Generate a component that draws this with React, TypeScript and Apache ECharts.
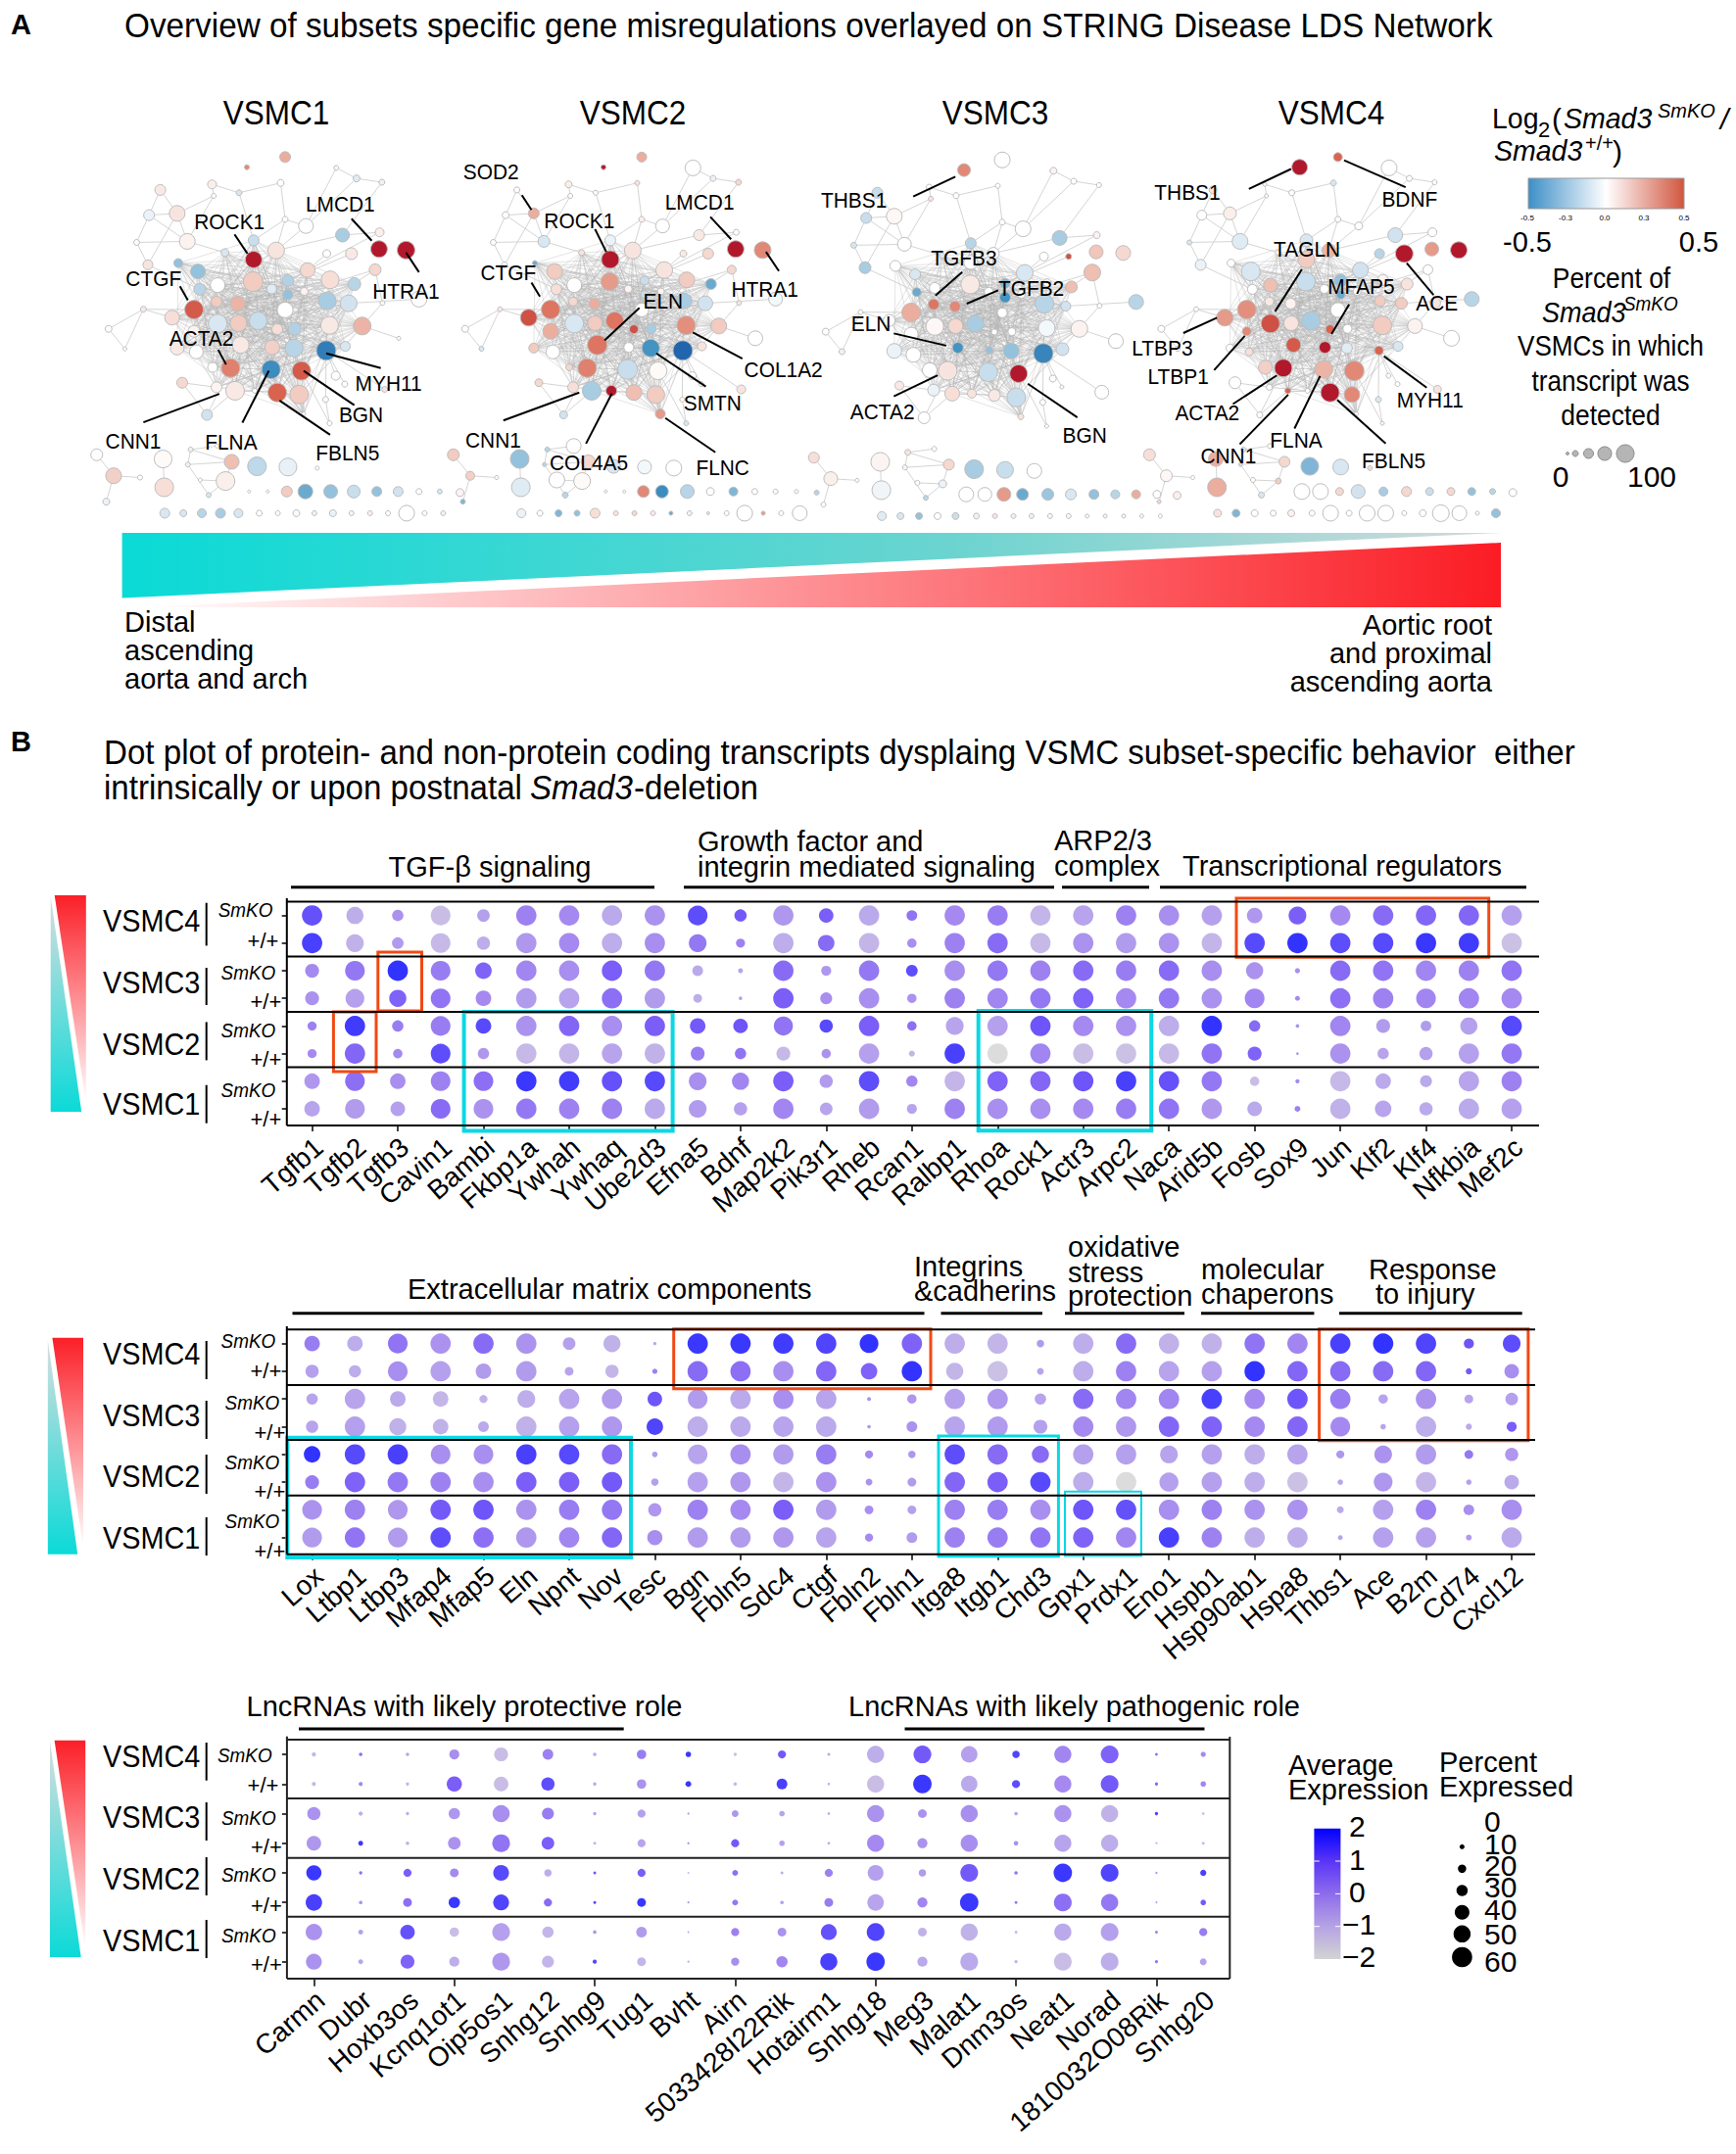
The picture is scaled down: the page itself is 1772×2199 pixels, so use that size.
import React, { useEffect, useRef } from "react";
import * as echarts from "echarts";

const FONT = "Liberation Sans";

// ---------- dot plot rows ----------
const rowLabels = ["VSMC4 SmKO", "VSMC4 +/+", "VSMC3 SmKO", "VSMC3 +/+", "VSMC2 SmKO", "VSMC2 +/+", "VSMC1 SmKO", "VSMC1 +/+"];

// ---------- dot plot 1 ----------
const genesA = ["Tgfb1","Tgfb2","Tgfb3","Cavin1","Bambi","Fkbp1a","Ywhah","Ywhaq","Ube2d3","Efna5","Bdnf","Map2k2","Pik3r1","Rheb","Rcan1","Ralbp1","Rhoa","Rock1","Actr3","Arpc2","Naca","Arid5b","Fosb","Sox9","Jun","Klf2","Klf4","Nfkbia","Mef2c"];
const pctA = [
[60,60,40,40,25,25,45,45],[50,52,58,55,60,60,58,58],[32,33,60,50,32,26,45,42],[58,58,58,58,58,58,58,58],[36,38,48,45,45,32,58,58],
[60,60,60,60,60,60,60,60],[60,60,60,60,60,60,60,60],[60,60,60,60,60,60,60,60],[60,60,60,60,60,60,60,60],[58,52,30,24,45,40,52,52],
[35,25,12,8,42,32,50,38],[60,60,60,60,56,40,60,60],[42,48,28,34,38,26,38,36],[60,60,60,60,60,60,60,60],[30,26,33,26,26,16,32,28],
[60,60,60,60,52,60,60,60],[60,60,60,60,60,60,60,60],[60,60,60,60,60,60,60,60],[60,60,60,60,60,60,60,60],[60,60,60,60,60,60,60,60],
[60,60,60,60,60,60,60,60],[60,60,60,60,60,60,60,60],[45,60,50,58,32,40,26,42],[52,60,13,12,8,5,10,15],[60,60,60,60,60,60,60,60],
[60,60,60,60,40,32,45,48],[60,60,60,58,30,38,34,38],[60,60,60,60,50,60,60,60],[60,60,60,60,60,60,60,60]];
const exprA = [
[1.3,1.7,0,-0.2,0.2,0,-0.3,-0.6],[-0.8,-0.9,0.4,-0.5,1.8,0.8,0.6,-0.4],[-0.2,-0.4,2,0.9,0.3,0,-0.1,-0.5],[-1.2,-1.1,0.3,0.5,0.3,1.4,0.2,0.7],[-0.5,-0.8,0.9,0,1.5,-0.3,0.6,-0.2],
[0.2,-0.3,0.1,-0.4,-0.2,-1.1,1.9,0.4],[0,0,-0.1,-0.6,0.8,-1,1.8,0.2],[-0.7,-0.8,1,0.6,-0.1,-0.6,1.3,0.2],[-0.2,-0.1,0.4,-0.4,1,-0.9,1.5,-0.7],[1.4,0.4,-0.7,-0.8,1.1,0.3,-0.1,-0.4],
[1.1,0.2,-0.6,-0.5,1.2,0.5,0.1,-0.5],[-0.3,-0.8,0.7,1,0.5,-1.1,1,0.1],[1,0.7,-0.3,-0.1,1.5,-0.2,-0.4,-0.6],[-0.7,-1,0.4,-0.1,1,-0.5,1.4,-0.4],[0.5,-0.1,1.4,-0.2,0.6,-1,0.1,-0.6],
[0,0.2,-0.1,0.2,-0.6,1.7,-1,0.2],[0.3,0.7,0.4,0.1,-0.5,-2,0.9,-0.1],[-1,-1.1,0.2,0.4,1.2,0.1,0.8,-0.1],[-0.6,-0.2,0.7,0.9,0,-1.2,1.2,0],[0.2,-0.4,0.3,0,-0.2,-1.3,1.7,0.3],
[-0.1,-0.2,0.7,0.4,-0.8,-1.1,1.3,0.5],[-0.5,-1,-0.1,-0.2,2,0.5,0.4,-0.3],[-0.3,1.5,-0.2,0.1,0.7,0.9,-1.2,-0.7],[1,2,-0.1,0,-0.2,-0.1,0,0.2],[0,1.4,0.7,0.6,0.1,-0.2,-1.1,-0.9],
[0.7,1.5,0.5,0.2,-0.4,-0.6,-0.7,-0.6],[0.8,1.9,0.1,0.1,-0.4,-0.5,-0.7,-0.7],[0.8,1.8,0.2,0.1,-0.5,-0.5,-0.6,-0.7],[-0.5,-1.3,0.5,0,1.5,0.4,0.2,-0.5]];

// ---------- dot plot 2 ----------
const genesB = ["Lox","Ltbp1","Ltbp3","Mfap4","Mfap5","Eln","Npnt","Nov","Tesc","Bgn","Fbln5","Sdc4","Ctgf","Fbln2","Fbln1","Itga8","Itgb1","Chd3","Gpx1","Prdx1","Eno1","Hspb1","Hsp90ab1","Hspa8","Thbs1","Ace","B2m","Cd74","Cxcl12"];
const pctB = [
[45,38,32,35,48,40,58,58],[45,35,60,60,60,60,60,60],[58,58,45,50,60,60,58,58],[60,60,45,45,58,60,60,60],[60,45,22,30,58,60,60,60],
[60,60,52,60,60,60,60,60],[36,24,60,60,60,60,60,60],[50,38,60,60,60,60,60,60],[7,13,42,48,14,20,38,44],[60,60,58,60,58,60,60,60],
[60,60,60,60,60,60,60,60],[60,60,60,60,60,60,60,60],[60,60,60,60,60,60,60,60],[55,48,9,8,22,18,24,22],[60,60,26,30,20,24,24,30],
[60,50,60,60,60,60,60,60],[60,60,60,60,60,60,60,60],[20,18,32,40,50,60,60,60],[60,60,60,60,60,60,60,60],[60,60,60,60,60,60,60,60],
[60,60,60,60,52,56,60,60],[60,60,60,60,60,60,60,60],[60,60,60,60,60,60,60,60],[60,60,60,60,60,60,60,60],[60,60,60,58,22,14,18,12],
[60,60,26,14,52,55,60,60],[60,60,60,60,60,60,60,60],[28,16,24,16,24,14,30,15],[52,42,36,28,38,42,60,60]];
const exprB = [
[0.3,-0.5,-0.6,-0.6,2,0.3,-0.2,-0.4],[-0.8,-0.8,-0.6,-0.5,1.5,0.9,0.2,0.5],[0.5,-0.1,-0.7,-0.9,1.7,0.4,-0.3,-0.4],[-0.2,-0.5,-1,-0.9,-0.1,0.2,1.1,1.4],[0.7,-0.4,-0.9,-0.7,-0.1,-0.1,1.2,0.6],
[-0.2,-0.4,-0.8,-0.9,1.7,1,-0.2,-0.3],[-0.5,-0.6,-0.6,-0.5,1.5,1,0.3,0.1],[-0.9,-1,-0.4,-0.3,0.7,1.1,0.4,0.8],[-0.6,0.2,1.2,1.6,-0.4,-0.5,-0.3,-0.1],[1.9,0.7,-0.4,-0.8,-0.6,-0.5,0.2,-0.4],
[1.9,0.6,-0.7,-0.7,-0.1,-0.3,0,-0.4],[1.8,-0.1,-0.1,-0.6,-0.4,-1,1,-0.3],[1.6,0.8,-0.6,-0.7,0.3,-0.2,-0.4,-0.6],[2,0.9,-0.2,-0.3,0,-0.2,-0.1,0],[0.9,2,-0.3,-0.2,-0.3,-0.4,-0.5,-0.4],
[-0.8,-1,-0.5,-0.6,1.4,0.8,0.2,0.2],[-1,-1.3,-0.3,-0.4,0.7,1,0.3,0.3],[-0.4,-0.6,-0.6,-0.5,0.7,1.5,-0.1,0.5],[-0.8,-0.8,0.7,0,-0.5,-0.8,1.2,0.9],[0.7,0.2,0.1,-0.3,-0.5,-2,1.3,0.1],
[-0.9,-0.6,0.1,0.8,-0.6,-0.5,-0.1,1.7],[-0.9,-0.5,1.7,0.9,-0.5,-0.5,0.2,0.2],[0.5,2,0,0,-0.8,-0.8,-0.2,-0.8],[0.1,0.8,1.2,0.8,-0.6,-1.3,-0.2,-0.8],[1.7,0.7,0.3,0,-0.3,-0.6,-0.7,-0.6],
[2,0.7,-0.6,-0.6,-0.2,-0.3,-0.5,-0.5],[1.6,0.8,-0.2,-0.8,-0.4,-1,0.2,-0.5],[1.2,1.1,-0.6,-0.7,0.4,-0.5,-0.1,-0.4],[1.4,-0.1,-0.5,1,-0.3,-0.7,-0.1,-0.7]];

// ---------- dot plot 3 ----------
const genesC = ["Carmn","Dubr","Hoxb3os","Kcnq1ot1","Oip5os1","Snhg12","Snhg9","Tug1","Bvht","Airn","5033428I22Rik","Hotairm1","Snhg18","Meg3","Malat1","Dnm3os","Neat1","Norad","1810032O08Rik","Snhg20"];
const pctC = [
[10,10,38,42,44,48,48,46],[8,10,10,12,7,8,12,12],[8,7,7,8,22,24,42,40],[28,44,32,36,24,32,26,28],[40,42,50,52,46,46,52,52],
[30,38,34,36,20,22,32,34],[8,7,7,6,6,6,8,10],[26,26,22,22,22,24,30,24],[14,15,3,4,2,3,2,3],[7,8,18,22,15,15,22,22],
[22,30,14,14,6,8,24,32],[6,5,5,5,22,24,46,50],[50,50,50,50,46,48,52,54],[52,54,24,28,20,28,24,28],[48,48,50,50,52,54,50,52],
[20,22,8,11,8,6,6,7],[50,50,50,50,54,52,50,52],[52,52,50,50,52,50,52,52],[5,7,7,3,4,3,6,7],[13,14,5,6,16,14,22,18]];
const exprC = [
[-1,-1.1,-0.2,-0.3,1.9,1.7,-0.2,-0.2],[0.6,0,-0.8,1.9,0.6,-0.2,-0.5,-0.6],[-0.7,-1,-0.8,-0.9,1,0.6,1.3,0.9],[-0.1,1,-0.3,-0.2,0,1.9,-1.2,-0.8],[-1.2,-1.2,-0.1,0.5,1.5,1.6,-0.5,-0.3],
[0.2,1.4,0.3,1,-0.8,0.7,-1,-1],[-0.7,-0.6,-0.5,-0.9,1.2,1.6,-0.3,1.5],[0.3,-0.2,-0.5,-0.6,1,1.9,-0.4,-1],[1.9,1.9,-0.2,-0.3,-0.8,-0.2,-0.4,-0.6],[-1.3,-1,-0.3,1.1,0.6,0.4,0.2,-0.1],
[1.1,1.7,-0.6,-0.5,-0.8,-0.5,-0.2,0.1],[-0.7,-0.9,-0.7,-0.7,0.2,0.3,1.3,1.7],[-0.8,-1.2,-0.2,0,-0.5,-0.6,1.6,1.9],[1.1,1.9,-0.2,-0.2,-0.4,0.1,-0.9,-0.7],[-0.5,-0.7,-0.1,-0.1,1.1,1.9,-0.9,-0.7],
[1.6,1.4,-0.5,-0.1,0.4,0.4,-1.1,-0.9],[0.1,0,-0.2,-0.6,1.9,0.6,-0.7,-1.2],[0.9,1.1,-0.9,-0.8,1.6,0.4,-0.5,-0.8],[0.9,0.7,1.7,-1,-0.3,-0.6,0.2,0.4],[0,0.1,-1.1,-1.1,1.7,1.1,0.3,-0.5]];

// ---------- networks: one shared layout, node sizes and log2 ratios per subset ----------
const layoutX = [451,345,410,482,536,580,450,423,385,387,355,352,317,400,451,491,547,512,483,512,541,587,630,582,620,507,459,424,387,306,586,644,524,493,428,484,523,349,315,614,418,532,493,385,345,453,540,378,
285,265,315,243,333,263,377,425,380,499,507,544,598,634,679,609,675,625,581,667,680,745,709,255,193,222,324,368,579,597,613,684,586,674,722,507,439,
172,202,249,189,290,292,339,334,412,401,371,457,512,564,386,356,
443,476,510,543,588,629,670,708,745,782,818,
293,326,359,392,424,461,494,527,559,592,625,658,690,723,755,788];
const layoutY = [742,885,1052,1056,1060,1002,805,868,862,815,827,776,752,722,687,716,772,802,826,842,833,800,812,860,867,886,917,924,925,908,930,932,940,941,986,993,995,1006,995,990,1117,1128,1122,1107,947,1117,1183,1050,
543,615,610,693,690,757,527,551,560,523,627,646,480,510,521,672,664,725,725,771,866,855,967,884,940,997,1094,1186,1142,1074,1098,1113,1210,712,715,449,478,
1300,1360,1365,1434,1312,1393,1285,1328,1320,1375,1415,1333,1335,1338,1275,1372,
1405,1405,1405,1405,1405,1405,1405,1405,1405,1405,1408,
1467,1467,1467,1467,1467,1467,1467,1467,1467,1467,1467,1467,1467,1467,1467,1467];
const peripheralLinks = [[48,49],[48,50],[49,50],[49,51],[49,52],[50,52],[50,53],[51,52],[51,53],[52,13],[53,10],[54,55],[54,56],[55,14],[56,50],[56,52],[55,57],[57,58],[58,14],[58,15],[59,15],[59,58],[60,61],[61,62],[60,59],[62,63],[61,59],[63,15],[64,16],[64,63],[66,16],[67,20],[67,23],[68,31],[68,67],[69,24],[70,31],[71,1],[71,29],[72,71],[72,73],[71,73],[74,43],[74,75],[75,2],[40,75],[76,5],[77,5],[78,5],[79,5],[80,76],[80,4],[45,40],[46,41],[46,4],[43,2],[47,2],[65,17],[24,5],[39,5],[31,5],[85,86],[86,87],[86,88],[89,90],[91,92],[92,93],[91,93],[92,95],[93,94],[95,94],[99,91],[100,94]];

const nodesVSMC1 = [[17,.9],[19,.55],[19,.42],[19,-.55],[19,.55],[20,-.65],[20,.2],[15,.28],[11,.2],[15,0],[12,-.2],[15,-.3],[9,-.3],[8,-.1],[11,-.15],[17,.1],[15,.15],[12,-.22],[10,-.08],[10,-.3],[8,.05],[18,.12],[13,-.2],[18,-.25],[17,-.12],[16,0],[18,-.15],[17,.2],[19,-.1],[15,.12],[18,.08],[18,.28],[13,-.22],[11,.12],[17,.08],[15,.18],[18,-.2],[14,0],[14,.08],[10,-.1],[19,.08],[19,.2],[19,.5],[11,.04],[12,.05],[5,0],[4,0],[10,0],
[11,.08],[11,-.05],[16,.1],[6,0],[16,.05],[10,.1],[9,.06],[6,-.1],[5,0],[7,0],[6,0],[15,0],[5,.04],[7,-.08],[6,-.05],[14,-.25],[9,.06],[12,.08],[8,0],[12,.15],[5,.03],[16,0],[4,0],[6,.08],[7,0],[4,0],[11,.15],[11,-.12],[6,0],[9,0],[6,0],[6,.1],[5,0],[17,.9],[18,.9],[11,.3],[5,.4],
[12,0],[16,.18],[5,0],[7,-.05],[18,.02],[19,.12],[5,-.05],[5,-.05],[15,.25],[19,.06],[5,-.1],[19,-.18],[18,-.06],[4,0],[4,0],[4,0],
[3,0],[3,0],[11,.2],[15,-.4],[14,-.3],[13,-.15],[10,-.3],[10,-.12],[6,0],[5,-.1],[8,.04],
[10,-.1],[7,-.1],[9,-.2],[10,-.25],[9,-.1],[6,0],[5,0],[7,.03],[5,-.05],[7,-.05],[5,-.03],[5,.06],[5,0],[16,0],[5,0],[5,-.05]];
const nodesVSMC2 = [[18,.9],[19,.45],[19,.42],[20,-.15],[18,.02],[20,-.8],[18,.35],[11,.3],[9,.15],[15,0],[11,.12],[16,.2],[5,-.4],[6,.1],[11,-.05],[17,.1],[17,.1],[9,-.15],[8,.05],[8,-.15],[7,.05],[16,.2],[11,-.4],[16,-.25],[15,-.12],[14,0],[18,.45],[15,.2],[19,-.1],[17,.6],[19,.38],[16,.2],[10,-.25],[9,.6],[20,.45],[10,0],[18,-.5],[14,0],[10,.2],[9,.1],[19,-.25],[18,.2],[16,.25],[11,.12],[16,.3],[11,.9],[10,.35],[7,.15],
[6,0],[7,0],[11,.3],[6,0],[12,-.1],[6,0],[7,.06],[5,0],[5,0],[5,.1],[6,.06],[14,0],[16,0],[6,-.05],[6,.15],[11,.08],[6,0],[11,.15],[7,.08],[9,.15],[5,.1],[14,-.03],[15,0],[5,.08],[7,0],[5,-.1],[8,.15],[8,-.12],[5,0],[8,0],[5,0],[9,.1],[5,-.1],[17,.9],[17,.4],[10,.3],[5,.9],
[12,.2],[9,.18],[4,0],[5,-.35],[19,-.3],[19,-.08],[5,-.2],[4,-.2],[14,.15],[17,.02],[6,-.2],[14,-.1],[14,-.03],[16,0],[15,0],[16,0],
[3,0],[3,0],[12,.4],[13,-.55],[14,-.2],[8,0],[9,-.35],[6,0],[5,0],[4,0],[5,-.2],
[9,-.05],[6,0],[7,-.35],[6,-.3],[10,.12],[5,.1],[5,.15],[5,.08],[4,-.4],[5,-.05],[3,-.1],[5,0],[16,0],[4,.35],[5,0],[15,0]];
const nodesVSMC3 = [[14,0],[19,.3],[19,.1],[19,-.15],[18,.9],[20,-.6],[19,.08],[11,.4],[11,.45],[11,0],[9,-.4],[11,-.1],[11,0],[6,-.1],[11,-.2],[12,0],[17,-.1],[10,-.35],[9,0],[11,-.5],[8,0],[8,0],[12,.25],[19,-.2],[10,-.12],[10,0],[17,-.25],[15,.15],[18,.03],[12,0],[17,-.03],[17,.05],[8,0],[6,0],[11,-.5],[7,-.3],[16,-.3],[15,0],[15,-.05],[13,-.12],[15,.12],[19,-.15],[12,.08],[12,-.05],[14,0],[9,.1],[6,.1],[15,0],
[11,-.15],[11,-.15],[16,.03],[6,-.1],[14,0],[12,-.25],[6,0],[6,0],[5,.1],[5,0],[6,0],[16,0],[7,.05],[6,0],[5,0],[15,-.25],[7,.05],[6,.6],[9,0],[17,.25],[5,0],[15,-.2],[15,0],[5,0],[7,0],[6,-.05],[9,.08],[12,0],[6,0],[7,0],[4,0],[14,0],[4,0],[14,.22],[15,.15],[16,0],[13,.4],
[11,.12],[14,.06],[4,0],[5,0],[19,.04],[19,-.04],[6,.1],[5,-.03],[11,.15],[8,-.05],[5,-.2],[19,-.25],[17,-.15],[15,0],[5,0],[5,0],
[15,0],[14,0],[14,.35],[12,-.4],[12,-.28],[11,-.1],[10,-.3],[9,-.2],[9,.3],[8,0],[8,.06],
[9,-.08],[7,-.1],[7,-.3],[7,0],[7,-.15],[6,-.05],[5,.1],[5,-.05],[5,-.05],[5,-.03],[5,.03],[4,-.03],[4,-.03],[4,.03],[4,-.03],[4,0]];
const nodesVSMC4 = [[17,.2],[19,.38],[18,.9],[18,.28],[20,.4],[9,.5],[19,-.15],[11,.05],[9,.08],[14,.25],[10,0],[19,-.1],[8,0],[5,0],[13,-.1],[14,.28],[16,-.12],[13,-.3],[9,0],[9,-.4],[8,0],[11,.05],[12,.1],[11,.2],[12,.2],[15,0],[19,-.25],[15,.1],[19,.6],[17,.35],[19,.2],[15,.05],[9,0],[9,.5],[15,.55],[12,.9],[11,-.08],[8,.12],[8,0],[10,-.1],[6,.5],[16,.4],[19,.9],[6,0],[9,.4],[5,0],[4,0],[14,.18],
[8,.1],[10,0],[13,.06],[5,-.1],[16,-.08],[11,-.05],[4,0],[6,0],[4,0],[6,-.1],[6,0],[8,0],[16,0],[6,0],[5,0],[15,-.12],[9,0],[18,.9],[10,-.2],[10,0],[11,.1],[15,-.2],[16,0],[5,0],[7,0],[5,0],[12,0],[6,0],[6,-.1],[5,0],[5,0],[8,.1],[4,0],[14,.35],[17,.9],[9,.5],[16,.9],
[12,.12],[12,.03],[4,0],[4,.15],[15,.3],[19,.3],[5,-.1],[4,-.15],[11,.15],[6,.2],[6,-.1],[18,-.35],[16,-.1],[5,.15],[5,0],[5,0],
[16,0],[16,0],[8,.15],[14,-.12],[9,-.25],[10,.15],[8,-.15],[8,.15],[8,-.3],[6,-.2],[8,0],
[8,.1],[8,-.35],[7,0],[6,0],[7,.05],[6,0],[16,0],[6,0],[16,0],[16,0],[5,0],[7,0],[17,0],[15,0],[4,0],[9,-.3]];

const fcStops = [[-.8,"#2166ac"],[-.5,"#4393c3"],[-.25,"#a8cce2"],[-.1,"#d8e7f1"],[0,"#ffffff"],[.1,"#f8e4de"],[.25,"#efbfb2"],[.5,"#d9634e"],[.9,"#b2182b"]] as [number,string][];
const fcColor = (v: number) => {
  for (let i = 1; i < fcStops.length; i++) {
    if (v <= fcStops[i][0]) {
      const [a, ca] = fcStops[i-1]; const [b, cb] = fcStops[i];
      return echarts.color.lerp(Math.max(0,(v-a)/(b-a)), [ca, cb]) as string;
    }
  }
  return fcStops[fcStops.length-1][1];
};

const exprColors = ["#D3D3D3","#B5A3E3","#8E6CEC","#5A35F6","#0000FF"];

const z1 = (x: number, y: number) => [x/1.742, y/2.8];
const z2 = (x: number, y: number) => [860+x/1.719, y/2.8];

// callouts: text, label x, label y, line x1,y1,x2,y2
const calloutsLeft: any[] = [
["ROCK1",408,636,417,670,440,725],["LMCD1",605,584,625,625,661,688],["CTGF",273,797,320,818,334,858],["HTRA1",722,834,722,722,745,778],["ACTA2",358,968,388,1000,402,1042],["MYH11",691,1097,580,1010,677,1052],["BGN",642,1187,540,1060,630,1158],["FBLN5",618,1295,497,1145,587,1243],["FLNA",411,1266,478,1060,431,1208],["CNN1",237,1263,390,1126,255,1207],
["SOD2",873,491,928,558,945,600],["ROCK1",1030,632,1058,655,1078,720],["LMCD1",1244,578,1263,620,1300,684],["HTRA1",1360,828,1362,720,1385,775],["CTGF",904,782,945,808,960,848],["ELN",1179,862,1137,880,1075,973],["COL1A2",1393,1058,1232,950,1320,1025],["SMTN",1267,1153,1167,1010,1255,1105],["CNN1",877,1260,1030,1122,895,1202],["COL4A5",1047,1325,1088,1125,1042,1268],["FLNC",1285,1338,1183,1195,1272,1293]];
const calloutsRight: any[] = [
["THBS1",20,573,124,562,198,505],["TGFB3",213,738,210,778,163,845],["TGFB2",331,825,273,830,218,868],["ELN",50,927,90,953,182,988],["ACTA2",70,1178,90,1133,167,1073],["BGN",425,1246,325,1097,412,1193],
["THBS1",605,552,713,540,787,483],["BDNF",995,572,880,458,988,535],["TAGLN",815,713,806,770,759,890],["MFAP5",910,820,889,870,858,955],["ACE",1043,868,990,752,1037,843],["LTBP3",561,997,598,952,657,908],["LTBP1",589,1077,652,1058,706,960],["ACTA2",640,1180,685,1155,762,1073],["MYH11",1031,1146,950,1018,1025,1108],["CNN1",677,1303,697,1270,782,1128],["FLNA",796,1260,793,1225,838,1075],["FBLN5",967,1318,868,1143,953,1268]];

const T = (text: string, x: number, y: number, fontSize: number, o: any = {}) => ({
  type: "text", x, y, z: 100, silent: true, scaleX: o.sx || 1,
  style: { text, fontSize, fontFamily: FONT, fill: "#000", fontStyle: o.italic ? "italic" : "normal", fontWeight: o.bold ? "bold" : "normal",
    align: o.align || "left", textAlign: o.align || "left", verticalAlign: "middle", textVerticalAlign: "middle" },
});
const L = (x1: number, y1: number, x2: number, y2: number, stroke = "#000", lineWidth = 2) => ({
  type: "line", z: 99, silent: true, shape: { x1, y1, x2, y2 }, style: { stroke, lineWidth },
});
const Box = (x1: number, y1: number, x2: number, y2: number, stroke: string, lineWidth = 3) => ({
  type: "rect", z: 98, silent: true, shape: { x: x1, y: y1, width: x2-x1, height: y2-y1 }, style: { fill: "none", stroke, lineWidth },
});
const grad = (x2: number, y2: number, stops: [number,string][]) =>
  new echarts.graphic.LinearGradient(0,0,x2,y2,stops.map(([offset,color])=>({offset,color})));
const Poly = (points: number[][], fill: any) => ({ type:"polygon", z:90, silent:true, shape:{points}, style:{fill} });

const ORANGE = "#F04A14"; const CYAN = "#0BD8E4";

function panelLeft(names: number[], bars: number[][], smko: number[][], plus: number[][], wedge: number[][]) {
  const out: any[] = [];
  const redW = wedge[0]; const tealW = wedge[1];
  out.push(Poly([[redW[0],redW[1]],[redW[2],redW[1]],[redW[2],redW[3]]], grad(0,1,[[0,"#FB1F28"],[1,"#ffffff"]])));
  out.push(Poly([[tealW[0],tealW[1]],[tealW[0],tealW[2]],[tealW[3],tealW[2]]], grad(0,1,[[0,"#d8dede"],[1,"#0BDAD8"]])));
  ["VSMC4","VSMC3","VSMC2","VSMC1"].forEach((n,i)=>{
    out.push(T(n,105,names[i],31,{sx:.93}));
    out.push(L(210.7,bars[i][0],210.7,bars[i][1],"#000",2));
    out.push(T("SmKO",smko[i][0],smko[i][1],21,{italic:true,sx:.9}));
    out.push(T("+/+",plus[i][0],plus[i][1],22));
  });
  return out;
}

export default function App() {
  const ref = useRef<HTMLDivElement>(null);
  useEffect(() => {
    const chart = echarts.init(ref.current!, undefined, { renderer: "svg" });
    const plots = [
      { genes: genesA, pct: pctA, expr: exprA, left: 296.7, width: 1268.2, top: 920.5, height: 225.6, off: 3, yoff: 4 },
      { genes: genesB, pct: pctB, expr: exprB, left: 296.7, width: 1268.2, top: 1357.5, height: 226.3, off: 3, yoff: 4 },
      { genes: genesC, pct: pctC, expr: exprC, left: 296.5, width: 955.6, top: 1775.9, height: 241.9, off: 2, yoff: 3.6 },
    ];
    const nets = [nodesVSMC1, nodesVSMC2, nodesVSMC3, nodesVSMC4];
    const netDx = [0, 364, 732, 1074.6]; const netDy = [0, 0, 2.9, 0];
    const grid: any[] = []; const xAxis: any[] = []; const yAxis: any[] = []; const series: any[] = [];
    plots.forEach((p, k) => {
      grid.push({ left: p.left, top: p.top, width: p.width, height: p.height });
      xAxis.push({ gridIndex: k, type: "category", data: p.genes, offset: p.off,
        axisLine: { show: false }, splitLine: { show: false },
        axisTick: { show: true, alignWithLabel: true, length: k===2?8:6, lineStyle: { color: "#000", width: 1.5 } },
        axisLabel: { show: false } });
      yAxis.push({ gridIndex: k, type: "category", data: rowLabels, inverse: true, offset: p.yoff,
        axisLine: { show: false }, splitLine: { show: false },
        axisTick: { show: true, alignWithLabel: true, length: 5, lineStyle: { color: "#000", width: 1.5 } },
        axisLabel: { show: false } });
      const data: number[][] = [];
      p.genes.forEach((_, i) => rowLabels.forEach((__, j) => data.push([i, j, p.pct[i][j], p.expr[i][j]])));
      series.push({ type: "scatter", xAxisIndex: k, yAxisIndex: k, data, symbol: "circle",
        symbolSize: (v: number[]) => 1 + v[2]*0.33, silent: true, z: 5 });
    });
    nets.forEach((nodes, k) => {
      const g = 3 + k;
      grid.push({ left: netDx[k], top: netDy[k], width: 650, height: 560 });
      xAxis.push({ gridIndex: g, type: "value", min: 0, max: 650*1.742, show: false });
      yAxis.push({ gridIndex: g, type: "value", min: 0, max: 1568, inverse: true, show: false });
      const links: any[] = [];
      for (let i = 0; i < 48; i++) for (let j = i+1; j < 48; j++) if ((i+j)%2===0) links.push({ source: i, target: j });
      peripheralLinks.forEach(([a,b]) => links.push({ source: a, target: b, lineStyle: { opacity: 0.9, color: "#cfcfcf", width: 1 } }));
      series.push({ type: "graph", layout: "none", coordinateSystem: "cartesian2d", xAxisIndex: g, yAxisIndex: g, silent: true, z: 3,
        data: nodes.map((n, i) => ({ name: `v${k}n${i}`, value: [layoutX[i], layoutY[i]], symbolSize: n[0],
          itemStyle: { color: fcColor(n[1]), borderColor: "#bdbdbd", borderWidth: 1 } })),
        links, lineStyle: { color: "#b4b4b4", width: 0.6, opacity: 0.6, curveness: 0 }, label: { show: false } });
    });
    // gene labels: an axis of their own, a few pixels right of the ticks, as in the figure
    plots.forEach((p, k) => {
      const idx = grid.length;
      grid.push({ left: p.left + 7, top: p.top, width: p.width, height: p.height });
      xAxis.push({ gridIndex: idx, type: "category", data: p.genes, offset: p.off,
        axisLine: { show: false }, axisTick: { show: false }, splitLine: { show: false },
        axisLabel: { interval: 0, rotate: 41, fontSize: 28, fontFamily: FONT, color: "#000", margin: 18 } });
      yAxis.push({ gridIndex: idx, type: "value", show: false });
    });

    const g: any[] = [];
    g.push(T("A", 11, 25, 29, { bold: true }));
    g.push(T("Overview of subsets specific gene misregulations overlayed on STRING Disease LDS Network", 127, 26, 36, { sx: .925 }));
    [["VSMC1",282],["VSMC2",646],["VSMC3",1016],["VSMC4",1359]].forEach(([n,x]) => g.push(T(n as string, x as number, 115, 35, { align: "center", sx: .9 })));
    calloutsLeft.forEach(c => {
      const [lx, ly] = z1(c[1], c[2]); const [a, b] = z1(c[3], c[4]); const [d, e] = z1(c[5], c[6]);
      g.push(T(c[0], lx, ly, 22, { align: "center", sx: .95 })); g.push(L(a, b, d, e, "#000", 2));
    });
    calloutsRight.forEach(c => {
      const [lx, ly] = z2(c[1], c[2]); const [a, b] = z2(c[3], c[4]); const [d, e] = z2(c[5], c[6]);
      g.push(T(c[0], lx, ly, 22, { align: "center", sx: .95 })); g.push(L(a, b, d, e, "#000", 2));
    });
    // legend of panel A
    g.push(T("Log", 1523, 121, 30, { sx: .95 })); g.push(T("2", 1570, 132, 22)); g.push(T("(", 1584, 121, 30));
    g.push(T("Smad3", 1596, 121, 30, { italic: true, sx: .95 })); g.push(T("SmKO", 1692, 112, 21, { italic: true, sx: .95 })); g.push(T("/", 1756, 121, 30, { italic: true }));
    g.push(T("Smad3", 1525, 154, 30, { italic: true, sx: .95 })); g.push(T("+/+", 1618, 146, 20)); g.push(T(")", 1646, 154, 30));
    g.push({ type: "rect", z: 90, silent: true, shape: { x: 1560, y: 182, width: 159, height: 31 },
      style: { fill: grad(1,0,[[0,"#3D8FC7"],[.5,"#ffffff"],[1,"#D1563F"]]), stroke: "#999", lineWidth: 1 } });
    [["-0.5",1559],["-0.3",1598],["0.0",1638],["0.3",1678],["0.5",1719]].forEach(([t,x]) => g.push(T(t as string, x as number, 222, 8, { align: "center" })));
    g.push(T("-0.5", 1559, 247, 29, { align: "center" })); g.push(T("0.5", 1734, 247, 29, { align: "center" }));
    g.push(T("Percent of", 1645, 283, 30, { align: "center", sx: .88 }));
    g.push(T("Smad3", 1574, 318, 30, { italic: true, sx: .9 })); g.push(T("SmKO", 1657, 310, 21, { italic: true, sx: .9 }));
    g.push(T("VSMCs in which", 1644, 353, 30, { align: "center", sx: .87 }));
    g.push(T("transcript was", 1644, 389, 30, { align: "center", sx: .87 }));
    g.push(T("detected", 1644, 423, 30, { align: "center", sx: .88 }));
    [[1600,3],[1608,6],[1621.5,10],[1638,14],[1659,18]].forEach(([x,d]) => g.push({ type: "circle", z: 90, silent: true, shape: { cx: x, cy: 463, r: d/2 }, style: { fill: "#b5b5b5", stroke: "#8a8a8a", lineWidth: 1 } }));
    g.push(T("0", 1593, 486, 30, { align: "center" })); g.push(T("100", 1686, 486, 30, { align: "center" }));
    // aorta wedges
    g.push(Poly([[124.6,544],[1532,544],[124.6,610.4]], grad(1,0,[[0,"#0ADAD6"],[.6,"#6bd4d0"],[1,"#d3dada"]])));
    g.push(Poly([[143,620],[1532,554],[1532,620]], grad(1,0,[[0,"#ffffff"],[1,"#FB1C24"]])));
    g.push(T("Distal", 127, 635, 29)); g.push(T("ascending", 127, 664, 29)); g.push(T("aorta and arch", 127, 693, 29));
    g.push(T("Aortic root", 1523, 638, 29, { align: "right" })); g.push(T("and proximal", 1523, 667, 29, { align: "right" })); g.push(T("ascending aorta", 1523, 696, 29, { align: "right" }));
    // panel B headings
    g.push(T("B", 11, 757, 29, { bold: true }));
    g.push(T("Dot plot of protein- and non-protein coding transcripts dysplaing VSMC subset-specific behavior  either", 106, 768, 36, { sx: .92 }));
    g.push(T("intrinsically or upon postnatal", 106, 804, 36, { sx: .92 })); g.push(T("Smad3", 541, 804, 36, { italic: true, sx: .92 })); g.push(T("-deletion", 647, 804, 36, { sx: .92 }));
    // plot 1
    g.push(T("TGF-β signaling", 500, 885, 29, { align: "center" })); g.push(L(297,905.7,668,905.7,"#000",3));
    g.push(T("Growth factor and", 712, 859, 29)); g.push(T("integrin mediated signaling", 712, 885, 29)); g.push(L(698,905.7,1076,905.7,"#000",3));
    g.push(T("ARP2/3", 1076, 858, 29)); g.push(T("complex", 1076, 884, 29)); g.push(L(1084,905.7,1173,905.7,"#000",3));
    g.push(T("Transcriptional regulators", 1207, 884, 29)); g.push(L(1184,905.7,1558,905.7,"#000",3));
    [920.4,976.4,1032.9,1089.5,1149].forEach(y => g.push(L(292.8,y,1571,y,"#000",2)));
    g.push(L(292.8,917,292.8,1149,"#000",2));
    g.push(...panelLeft([940,1003,1066,1127], [[921.7,965.4],[988,1026],[1043.4,1082.4],[1107.7,1146.7]],
      [[222.7,928.6],[225.6,993],[225.6,1051.7],[225.6,1113]], [[252.6,960],[255.5,1022.8],[255.5,1081.5],[255.5,1142]], [[55.7,914,87.8,1126],[51.7,915,1135,83.2]]));
    g.push(Box(385.8,972,430.5,1032,ORANGE)); g.push(Box(340.4,1033,384,1094,ORANGE));
    g.push(Box(473.6,1033,686.6,1154.5,CYAN,4)); g.push(Box(998.7,1032,1175.2,1154.3,CYAN,4)); g.push(Box(1262,917,1519.7,977.3,ORANGE));
    // plot 2
    g.push(T("Extracellular matrix components", 416, 1316, 29)); g.push(L(298.5,1340.7,943.5,1340.7,"#000",3));
    g.push(T("Integrins", 933, 1293, 29)); g.push(T("&cadherins", 933, 1318, 29)); g.push(L(960.5,1340.7,1064,1340.7,"#000",3));
    g.push(T("oxidative", 1090, 1273, 29)); g.push(T("stress", 1090, 1299, 29)); g.push(T("protection", 1090, 1323, 29)); g.push(L(1087,1340.7,1209,1340.7,"#000",3));
    g.push(T("molecular", 1226, 1296, 29)); g.push(T("chaperons", 1226, 1321, 29)); g.push(L(1226,1340.7,1341.4,1340.7,"#000",3));
    g.push(T("Response", 1397, 1296, 29)); g.push(T("to injury", 1404, 1321, 29)); g.push(L(1367,1340.7,1553.7,1340.7,"#000",3));
    [1357.3,1414,1470,1526.7,1586.7].forEach(y => g.push(L(292.8,y,1567,y,"#000",2)));
    g.push(L(292.8,1354,292.8,1586.7,"#000",2));
    g.push(...panelLeft([1382,1445,1507,1570], [[1369,1408],[1430,1469],[1485,1525],[1549,1588]],
      [[225.6,1369],[229.6,1432],[229.6,1492.3],[229.6,1552.7]], [[255.5,1399],[259.5,1462.7],[259.5,1522.7],[259.5,1583.3]], [[53.4,1365.7,85,1580],[48.8,1368,1586.7,79.2]]));
    g.push(Box(687.7,1356.7,950,1417.7,ORANGE)); g.push(Box(293.3,1467.7,644,1590,CYAN,4)); g.push(Box(958,1466,1080.4,1588.7,CYAN,3));
    g.push(Box(1087,1522.7,1164.9,1588.3,CYAN,2)); g.push(Box(1346.6,1356.7,1559.9,1470.7,ORANGE));
    // plot 3
    g.push(T("LncRNAs with likely protective role", 251.5, 1742, 29)); g.push(L(305,1765,636.7,1765,"#000",3));
    g.push(T("LncRNAs with likely pathogenic role", 866, 1742, 29)); g.push(L(923.5,1765,1229.5,1765,"#000",3));
    [1776,1836,1896.7,1956.7,2020].forEach(y => g.push(L(292.9,y,1255.3,y,"#222",2)));
    g.push(L(292.9,1772.7,292.9,2020,"#222",2)); g.push(L(1255.3,1773,1255.3,2020,"#222",2));
    g.push(...panelLeft([1793,1855,1918,1981], [[1779,1817.7],[1840,1879],[1896,1935],[1960,1999]],
      [[222,1792],[226,1855.7],[226,1914],[226,1976]], [[252.6,1822.3],[256,1885.7],[256,1945.7],[256,2005.7]], [[55.6,1776.7,87.2,1990],[51,1778,1998,82.7]]));
    // dot plot legends
    g.push(T("Average", 1315, 1802, 29)); g.push(T("Expression", 1315, 1827, 29));
    g.push(T("Percent", 1469, 1799, 29)); g.push(T("Expressed", 1469, 1824, 29));
    g.push({ type: "rect", z: 90, silent: true, shape: { x: 1341.4, y: 1866.7, width: 27, height: 133.3 },
      style: { fill: grad(0,1,[[0,exprColors[4]],[.25,exprColors[3]],[.5,exprColors[2]],[.75,exprColors[1]],[1,exprColors[0]]]) } });
    [1900,1933.4,1966.7].forEach(y => { g.push(L(1341.4,y,1346.8,y,"#fff",1)); g.push(L(1363,y,1368.4,y,"#fff",1)); });
    [["2",1377,1864],["1",1377,1898],["0",1377,1931],["−1",1370,1964],["−2",1370,1997]].forEach(([t,x,y]) => g.push(T(t as string, x as number, y as number, 30)));
    [[1863.3,1],[1885.3,5],[1907.7,8.5],[1930,11.5],[1952.3,15],[1974.3,17.5],[1998,20.7]].forEach(([y,d]) => g.push({ type: "circle", z: 90, silent: true, shape: { cx: 1492.4, cy: y, r: d/2 }, style: { fill: "#000" } }));
    [["0",1859],["10",1882],["20",1904],["30",1926],["40",1949],["50",1974],["60",2002]].forEach(([t,y]) => g.push(T(t as string, 1515, y as number, 30)));

    chart.setOption({
      animation: false, backgroundColor: "#fff", grid, xAxis, yAxis, series,
      visualMap: { show: false, type: "continuous", min: -2, max: 2, dimension: 3, seriesIndex: [0,1,2], inRange: { color: exprColors } },
      graphic: { elements: g },
    });
    return () => chart.dispose();
  }, []);
  return <div ref={ref} style={{ position: "absolute", left: 0, top: 0, width: 1772, height: 2199 }} />;
}
